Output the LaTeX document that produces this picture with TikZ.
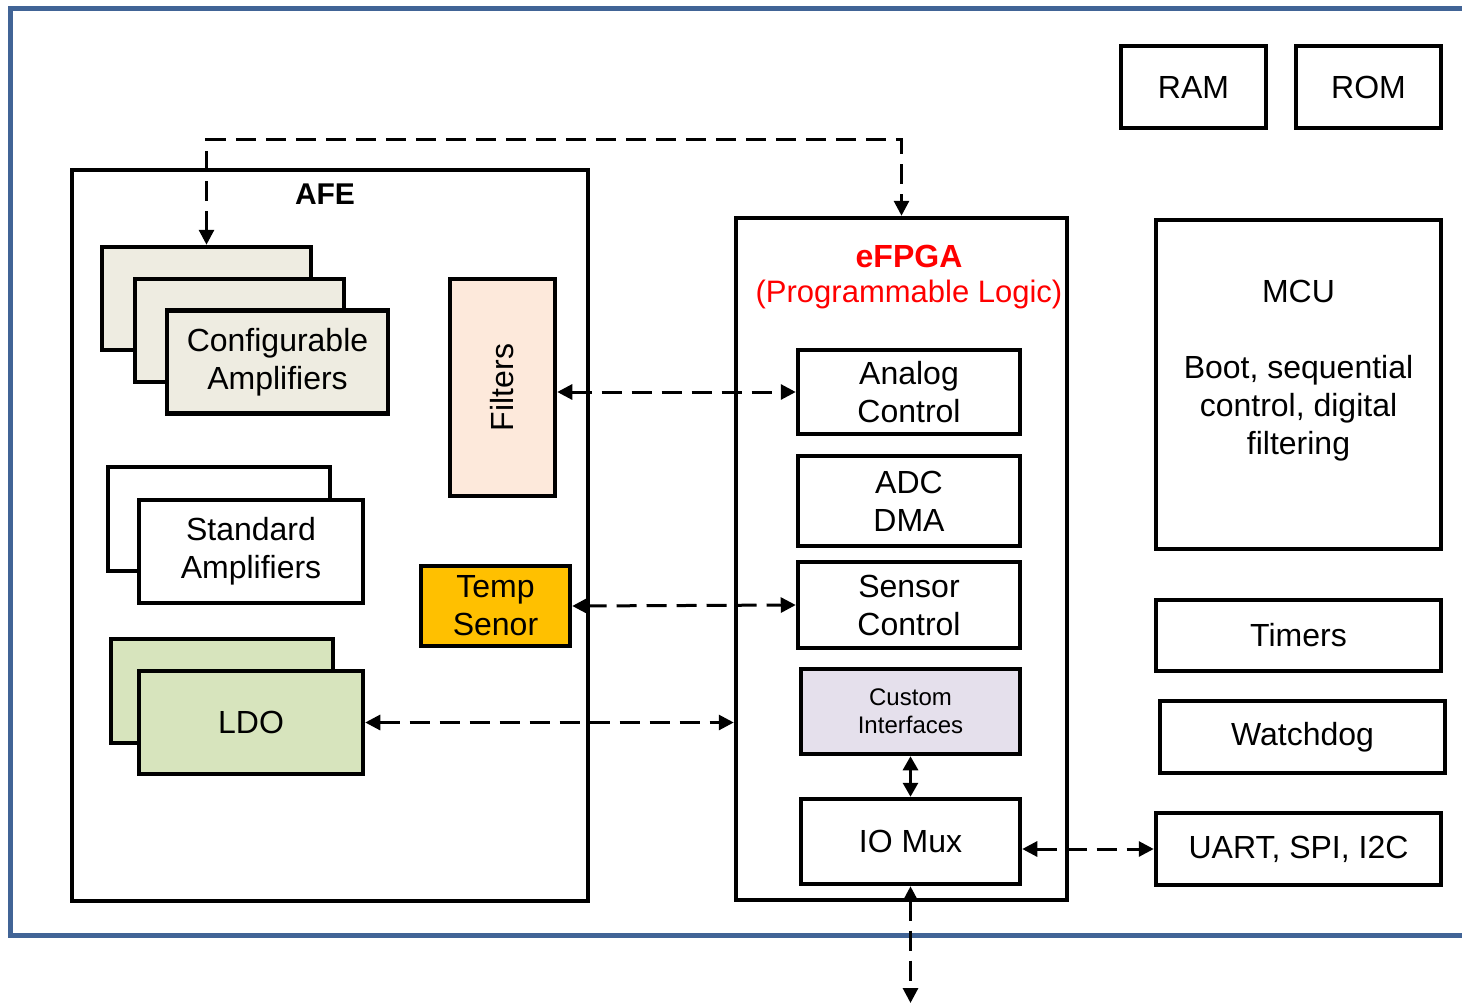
\documentclass[tikz,border=0pt]{standalone}
\usepackage{fontspec}
\setmainfont{Liberation Sans}
\usetikzlibrary{arrows.meta}
\definecolor{frameblue}{RGB}{65,100,150}
\definecolor{cfgfill}{RGB}{238,236,225}
\definecolor{filtfill}{RGB}{253,233,219}
\definecolor{tempfill}{RGB}{255,192,0}
\definecolor{ldofill}{RGB}{215,228,189}
\definecolor{custfill}{RGB}{229,224,236}
\begin{document}
\begin{tikzpicture}[x=1pt,y=-1pt,
  blk/.style args={#1/#2}{draw, line width=4.5pt, minimum width=#1pt, minimum height=#2pt,
     inner sep=0pt, align=center, font=\fontsize{32}{38}\selectfont},
  dasharrow/.style={line width=3pt, dash pattern=on 20pt off 10pt, {Triangle[length=15pt,width=15pt]}-{Triangle[length=15pt,width=15pt]}},
  solidarrow/.style={line width=3pt, {Triangle[length=14pt,width=15pt]}-{Triangle[length=14pt,width=15pt]}},
  ttl/.style={inner sep=0pt, align=center}
]
\useasboundingbox (0,0) rectangle (1462,1004);
\fill[white] (0,0) rectangle (1462,1004);
% outer frame
\draw[frameblue, line width=5pt] (1462,8) -- (10,8) -- (10,935) -- (1462,935);

% memory / MCU side
\node[blk=145/82] (ram) at (1193.5,87) {RAM};
\node[blk=145/82] (rom) at (1368.5,87) {ROM};
\node[blk=285/329] (mcu) at (1298.5,384.5) {};
\node[ttl, font=\fontsize{32}{38}\selectfont] (mcutext) at (1298.5,371) {MCU\\[38pt]Boot, sequential\\control, digital\\filtering};
\node[blk=285/71] (timers) at (1298.5,635.5) {Timers};
\node[blk=285/72] (wdog) at (1302.5,737) {Watchdog};
\node[blk=285/72] (uart) at (1298.5,849) {UART, SPI, I2C};

% eFPGA
\node[blk=331/682] (efpga) at (901.5,559) {};
\node[ttl, text=red, font=\bfseries\fontsize{32}{38}\selectfont] (efpgatitle) at (909,256) {eFPGA};
\node[ttl, text=red, font=\fontsize{31}{38}\selectfont] (efpgasub) at (909,294) {(Programmable Logic)};
\node[blk=222/84] (analog) at (909,392) {Analog\\Control};
\node[blk=222/90] (adc) at (909,501) {ADC\\DMA};
\node[blk=222/86] (sensor) at (909,605) {Sensor\\Control};
\node[blk=219/85, fill=custfill, font=\fontsize{24}{28}\selectfont] (custom) at (910.5,711.5) {Custom\\Interfaces};
\node[blk=219/85] (iomux) at (910.5,841.5) {IO Mux};

% AFE
\node[blk=516/731] (afe) at (330,535.5) {};
\node[ttl, font=\bfseries\fontsize{30}{34}\selectfont] (afetitle) at (325,194) {AFE};
\node[blk=209/103, fill=cfgfill] (cfga) at (206.5,298.5) {};
\node[blk=209/103, fill=cfgfill] (cfgb) at (239.5,330.5) {};
\node[blk=221/103, fill=cfgfill] (cfgc) at (277.5,362) {Configurable\\Amplifiers};
\node[blk=105/217, fill=filtfill] (filters) at (502.5,387.5) {};
\node[ttl, rotate=90, font=\fontsize{32}{38}\selectfont] (filtertext) at (filters.center) {Filters};
\node[blk=222/104] (stda) at (219,519) {};
\node[blk=224/103, fill=white] (stdb) at (251,551.5) {Standard\\Amplifiers};
\node[blk=149/80, fill=tempfill] (temp) at (495.5,606) {Temp\\Senor};
\node[blk=222/104, fill=ldofill] (ldoa) at (222,691) {};
\node[blk=224/103, fill=ldofill] (ldob) at (251,722.5) {LDO};

% connectors
\draw[dasharrow] (cfga.north) -- ++(0,-105) -| (efpga.north);
\draw[dasharrow] (analog.west -| filters.east) -- (analog.west);
\draw[dasharrow] (temp.east) -- (sensor.west);
\draw[dasharrow] (ldob.east) -- (ldob.east -| efpga.west);
\draw[dasharrow] (uart.west -| iomux.east) -- (uart.west);
\draw[solidarrow] (custom.south) -- (iomux.north);
\coordinate (ioout) at (910.5,1003);
\draw[dasharrow] (iomux.south) -- (ioout);
\end{tikzpicture}
\end{document}
